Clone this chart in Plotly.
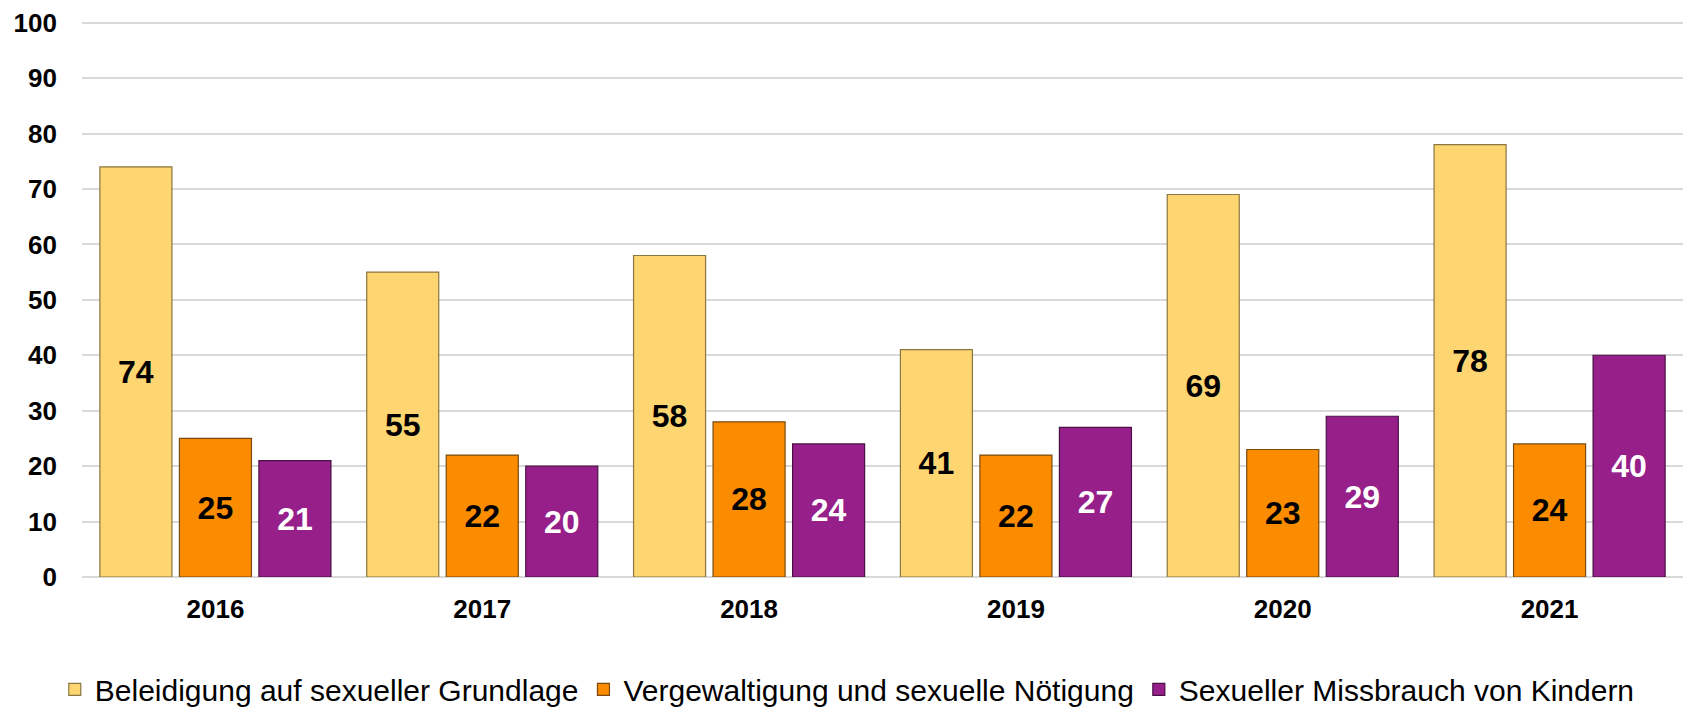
import plotly.graph_objects as go

years = ["2016", "2017", "2018", "2019", "2020", "2021"]
beleidigung = [74, 55, 58, 41, 69, 78]
vergewaltigung = [25, 22, 28, 22, 23, 24]
missbrauch = [21, 20, 24, 27, 29, 40]

series = [
    ("Beleidigung auf sexueller Grundlage", beleidigung, "#FDD571", "#8a7640", "black"),
    ("Vergewaltigung und sexuelle Nötigung", vergewaltigung, "#FB8C00", "#7a4a10", "black"),
    ("Sexueller Missbrauch von Kindern", missbrauch, "#971F8A", "#4a1045", "white"),
]

fig = go.Figure()
for name, vals, col, edge, tcol in series:
    fig.add_trace(go.Bar(
        x=years, y=vals, name=name,
        marker=dict(color=col, line=dict(color=edge, width=1.2)),
        text=[str(v) for v in vals],
        textposition="inside", insidetextanchor="middle",
        textangle=0,
        textfont=dict(family="Liberation Sans, Arial, sans-serif", size=32, color=tcol, weight="bold"),
    ))

fig.update_layout(
    width=1692, height=704,
    paper_bgcolor="white", plot_bgcolor="white",
    margin=dict(l=74, r=17, t=13, b=135, autoexpand=False),
    barmode="group", bargap=0.106, bargroupgap=0.094,
    uniformtext=dict(minsize=32, mode="show"),
    font=dict(family="Liberation Sans, Arial, sans-serif", color="black"),
    xaxis=dict(
        tickfont=dict(size=26, weight="bold"),
        showgrid=False, showline=False, ticks="",
        ticklabelstandoff=14,
    ),
    yaxis=dict(
        range=[0, 100.3], tickvals=[0, 10, 20, 30, 40, 50, 60, 70, 80, 90, 100],
        tickfont=dict(size=26, weight="bold"),
        showgrid=True, gridcolor="#D9D9D9", gridwidth=1.5,
        zeroline=True, zerolinecolor="#D9D9D9", zerolinewidth=1.5,
        ticks="", ticklabelstandoff=24, ticklabeloverflow="allow",
    ),
    legend=dict(
        orientation="h", x=0.478, xanchor="center", y=-0.202, yanchor="middle",
        font=dict(family="Liberation Sans, Arial, sans-serif", size=30),
        itemwidth=30, traceorder="normal",
    ),
)

fig.write_html("out.html")
